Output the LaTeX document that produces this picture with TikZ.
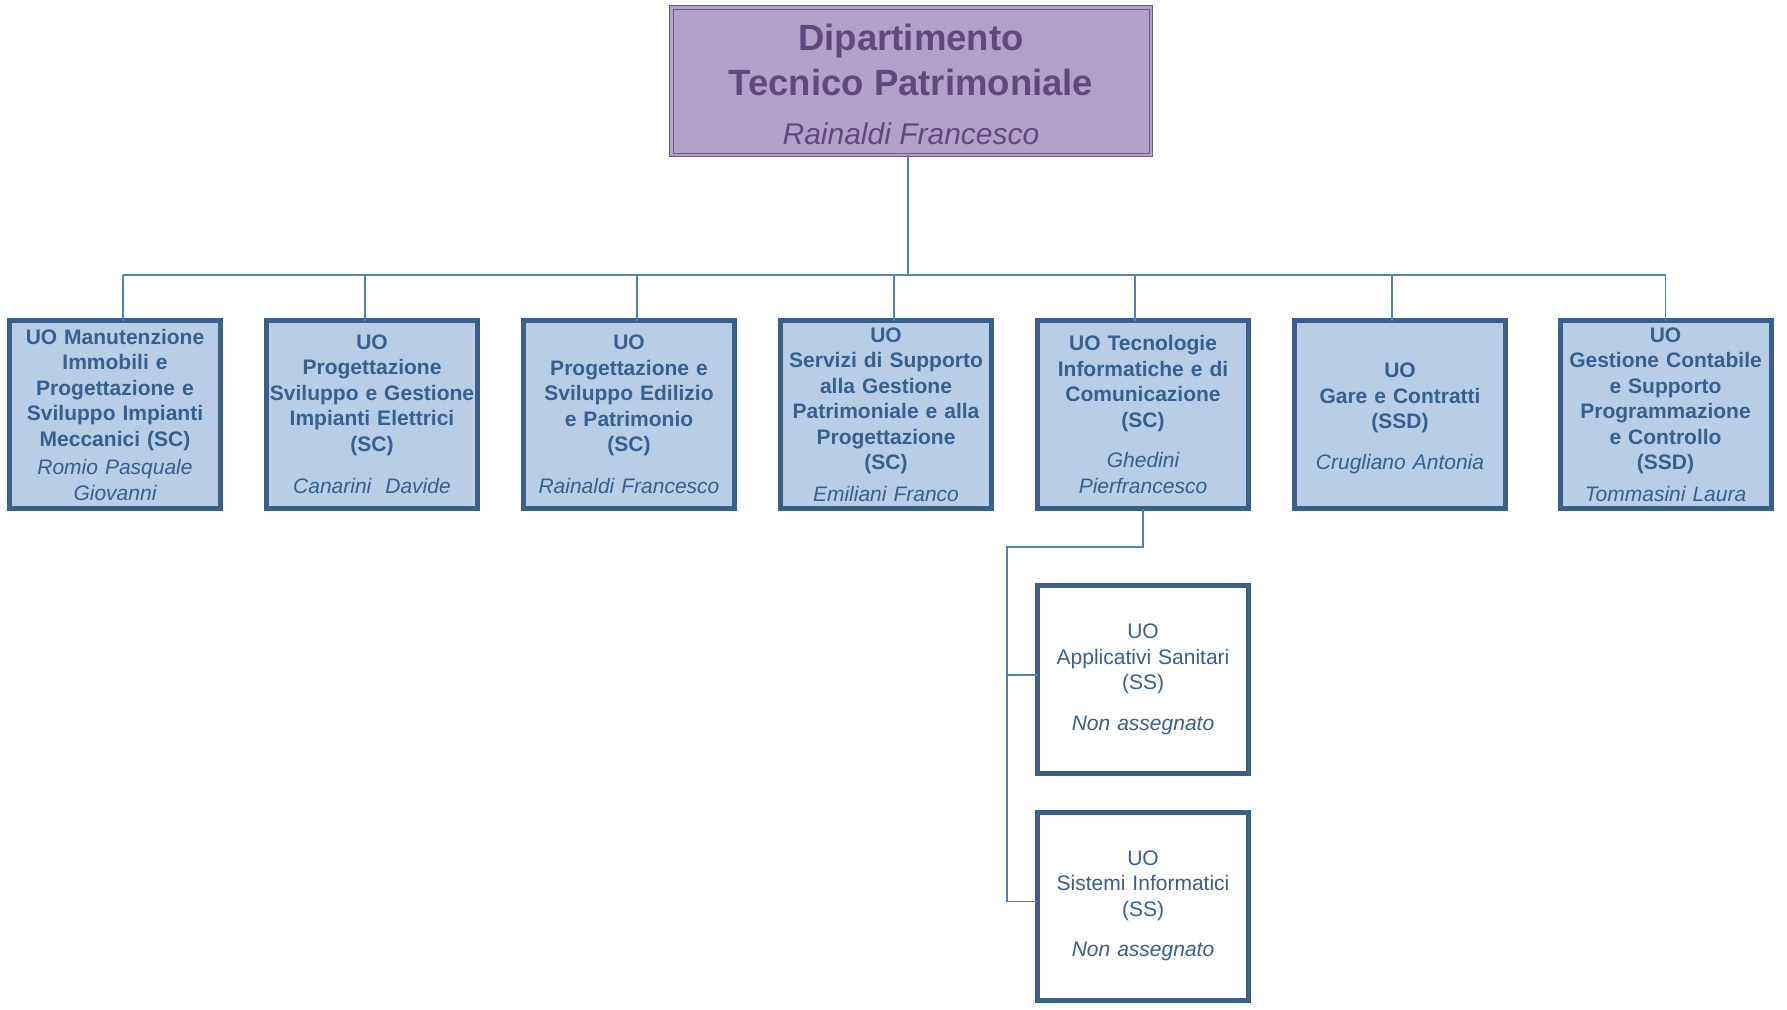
\documentclass[tikz,border=0pt]{standalone}
\usepackage{fontspec}
\setmainfont{Liberation Sans}
\usetikzlibrary{positioning}
\usetikzlibrary{calc}

\definecolor{uofill}{HTML}{B9CDE5}
\definecolor{uoline}{HTML}{3A5F8B}
\definecolor{uotext}{HTML}{36608F}
\definecolor{linkcol}{HTML}{4F81BD}
\definecolor{headfill}{HTML}{B3A2C7}
\definecolor{headline}{HTML}{6E5A8C}
\definecolor{headtext}{HTML}{604A7B}

\newcommand{\resp}[1]{{\mdseries\itshape #1}}

\begin{document}
\begin{tikzpicture}[x=1pt,y=-1pt,
    head/.style={draw=headline, line width=1pt, double=headfill,
      double distance=2.5pt, fill=headfill, text=headtext,
      minimum width=479.5pt, minimum height=147.5pt, inner sep=0pt,
      outer sep=0pt, align=center,
      font=\fontsize{36.5}{45}\selectfont\bfseries},
    unit/.style={draw=uoline, fill=uofill, line width=5pt, text=uotext,
      minimum width=211pt, minimum height=188pt, inner sep=0pt,
      outer sep=0pt, text width=210pt, align=center,
      font=\fontsize{21}{25.5}\selectfont\bfseries},
    subunit/.style={unit, fill=white,
      font=\fontsize{21}{25.5}\selectfont},
    link/.style={draw=linkcol, line width=1.3pt}]

  \useasboundingbox (0,0) rectangle (1787,1009);

  \node [head] (dept) at (911,81)
    {\rule{0pt}{34pt}Dipartimento\\ Tecnico Patrimoniale\\[4pt]
     {\fontsize{30}{36}\selectfont\resp{Rainaldi Francesco}}};

  % first level
  \node [unit] (manut) at (115,414.5)
    {UO Manutenzione\\ Immobili e\\ Progettazione e\\ Sviluppo Impianti\\
     Meccanici (SC)\\[3pt] \resp{Romio Pasquale}\\ \resp{Giovanni}};
  \node [unit, right=46pt of manut] (elettr)
    {UO\\ Progettazione\\ Sviluppo e Gestione\\ Impianti Elettrici\\ (SC)\\[17pt]
     \resp{Canarini\ \ Davide}};
  \node [unit, right=46pt of elettr] (edil)
    {UO\\ Progettazione e\\ Sviluppo Edilizio\\ e Patrimonio\\ (SC)\\[16pt]
     \resp{Rainaldi Francesco}};
  \node [unit, right=46pt of edil] (supp)
    {UO\\ Servizi di Supporto\\ alla Gestione\\ Patrimoniale e alla\\
     Progettazione\\ (SC)\\[6pt] \resp{Emiliani Franco}};
  \node [unit, right=46pt of supp] (tecinf)
    {UO Tecnologie\\ Informatiche e di\\ Comunicazione\\ (SC)\\[15pt]
     \resp{Ghedini}\\ \resp{Pierfrancesco}};
  \node [unit, right=46pt of tecinf] (gare)
    {\rule{0pt}{22pt}UO\\ Gare e Contratti\\ (SSD)\\[15pt] \resp{Crugliano Antonia}};
  \node [unit, right=54.5pt of gare] (contab)
    {UO\\ Gestione Contabile\\ e Supporto\\ Programmazione\\ e Controllo\\
     (SSD)\\[6pt] \resp{Tommasini Laura}};

  % second level
  \node [subunit, below=77pt of tecinf] (applsan)
    {UO\\ Applicativi Sanitari\\ (SS)\\[15pt] \resp{Non assegnato}};
  \node [subunit, below=38.5pt of applsan] (sisinf)
    {UO\\ Sistemi Informatici\\ (SS)\\[15pt] \resp{Non assegnato}};

  % connectors
  \coordinate (bus) at (908,275);
  \coordinate (top) at ([xshift=-3pt]dept.south);
  \draw [link] (top) -- (top |- bus);
  \foreach \u/\dx in {manut/8,elettr/-7,edil/8,supp/8,tecinf/-8,gare/-8,contab/0}
    \coordinate (\u-in) at ([xshift=\dx pt]\u.north);
  \draw [link] (manut-in |- bus) -- (contab-in |- bus);
  \foreach \u in {manut,elettr,edil,supp,tecinf,gare,contab}
    \draw [link] (\u-in) -- (\u-in |- bus);

  \coordinate (elbow) at (1007,547);
  \coordinate (applsan-in) at ([yshift=4.5pt]applsan.west);
  \coordinate (sisinf-in) at ([yshift=4.5pt]sisinf.west);
  \draw [link] (tecinf.south) |- (elbow) -- (elbow |- sisinf-in) -- (sisinf-in);
  \draw [link] (elbow |- applsan-in) -- (applsan-in);

\end{tikzpicture}
\end{document}
